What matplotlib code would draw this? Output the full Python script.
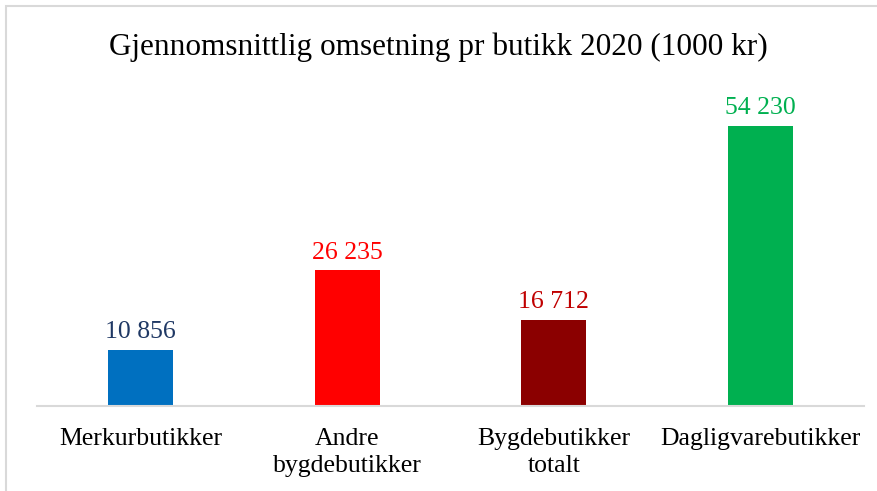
import matplotlib.pyplot as plt
from matplotlib.patches import Rectangle

# data
categories = ['Merkurbutikker', 'Andre\nbygdebutikker', 'Bygdebutikker\ntotalt', 'Dagligvarebutikker']
values = [10856, 26235, 16712, 54230]
labels = ['10 856', '26 235', '16 712', '54 230']
bar_colors = ['#0070c0', '#ff0000', '#8b0000', '#00b050']
label_colors = ['#1f3864', '#ff0000', '#c00000', '#00b050']

plt.rcParams['font.family'] = ['Liberation Serif', 'DejaVu Serif']

fig = plt.figure(figsize=(8.77, 4.91), dpi=100)
ax = fig.add_axes([37 / 877, 85 / 491, 827 / 877, 310 / 491])

x = range(len(categories))
ax.bar(x, values, width=0.315, color=bar_colors)
for i, v in enumerate(values):
    ax.text(i, v + 1300, labels[i], ha='center', va='bottom', fontsize=18.5, color=label_colors[i])

ax.set_xlim(-0.5, 3.5)
ax.set_ylim(0, 60000)
ax.set_yticks([])
ax.set_xticks(list(x))
ax.set_xticklabels(categories, fontsize=18.5, linespacing=1.3, va='top')
ax.tick_params(axis='x', length=0, pad=16)
for s in ['top', 'right', 'left']:
    ax.spines[s].set_visible(False)
ax.spines['bottom'].set_color('#d9d9d9')
ax.spines['bottom'].set_linewidth(1.5)

fig.text(0.5, 1 - 47 / 491, 'Gjennomsnittlig omsetning pr butikk 2020 (1000 kr)',
         ha='center', va='center', fontsize=22.5)

# outer chart border
fig.patches.append(Rectangle((6 / 877, -0.1), 1.2, 1 - 6 / 491 + 0.1, transform=fig.transFigure,
                             fill=False, edgecolor='#d9d9d9', linewidth=1.5))

fig.savefig('out.png', dpi=100)
